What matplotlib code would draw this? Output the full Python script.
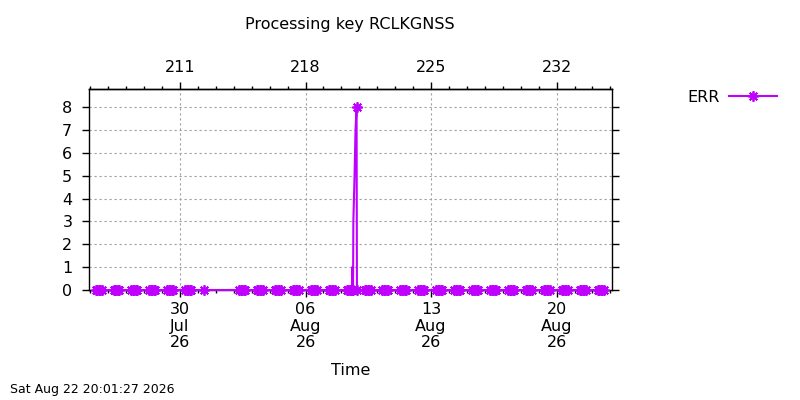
import matplotlib
matplotlib.use('Agg')
import matplotlib.pyplot as plt
import matplotlib.dates as mdates
from matplotlib.ticker import MultipleLocator, FixedLocator
import pandas as pd
from datetime import datetime

# --- data ---
zero_days = ['2026-07-25', '2026-07-26', '2026-07-27', '2026-07-28', '2026-07-29',
             '2026-07-30', '2026-08-02', '2026-08-03', '2026-08-04', '2026-08-05',
             '2026-08-06', '2026-08-07', '2026-08-09', '2026-08-10', '2026-08-11',
             '2026-08-12', '2026-08-13', '2026-08-14', '2026-08-15', '2026-08-16',
             '2026-08-17', '2026-08-18', '2026-08-19', '2026-08-20', '2026-08-21',
             '2026-08-22']
zero_hours = [7, 9, 11, 13, 15]

extra_times = ['2026-07-31 08:00']
extra_values = [0]

spike_times = ['2026-08-08 07:00', '2026-08-08 09:00', '2026-08-08 11:00', '2026-08-08 13:00',
               '2026-08-08 14:10', '2026-08-08 14:24', '2026-08-08 15:36', '2026-08-08 16:00',
               '2026-08-08 17:36', '2026-08-08 18:54', '2026-08-08 20:18', '2026-08-08 20:48']
spike_values = [0, 0, 0, 0, 0, 1, 0, 3, 5, 7, 8, 0]

doy_ticks = [211, 218, 225, 232]
series_name = 'ERR'
title = 'Processing key RCLKGNSS'
stamp = 'Sat Aug 22 20:01:27 2026'

# build the series
rows = []
for d in zero_days:
    for h in zero_hours:
        rows.append((pd.Timestamp(d) + pd.Timedelta(hours=h), 0))
for t, v in zip(extra_times, extra_values):
    rows.append((pd.Timestamp(t), v))
for t, v in zip(spike_times, spike_values):
    rows.append((pd.Timestamp(t), v))
df = pd.DataFrame(rows, columns=['time', 'err']).sort_values('time').reset_index(drop=True)

# markers only on the sampled points, not on the ramp of the spike
peak = df['err'].max()
mark_idx = [i for i, v in enumerate(df['err']) if v == 0 or v == peak]

color = '#c000ff'
fs = 11.5
plt.rcParams['font.family'] = 'DejaVu Sans'

fig = plt.figure(figsize=(8, 4), dpi=100)
ax = fig.add_axes([89 / 800, 1 - 290 / 400, (612 - 89) / 800, (290 - 89) / 400])

ax.plot(df['time'], df['err'], color=color, lw=1.5, marker=(8, 2, 0), ms=7.5, mew=1.3,
        markevery=mark_idx, clip_on=False, zorder=3, label=series_name)

ax.set_xlim(datetime(2026, 7, 24, 22, 12), datetime(2026, 8, 23, 2, 10))
ax.set_ylim(0, 8.8)

ax.xaxis.set_major_locator(FixedLocator(mdates.date2num(
    [datetime(2026, 7, 30), datetime(2026, 8, 6), datetime(2026, 8, 13), datetime(2026, 8, 20)])))
ax.xaxis.set_major_formatter(mdates.DateFormatter('%d\n%b\n%y'))
ax.xaxis.set_minor_locator(mdates.DayLocator())
ax.yaxis.set_major_locator(MultipleLocator(1))

ax.tick_params(axis='both', which='major', direction='out', length=5, width=1, labelsize=fs)
ax.tick_params(axis='both', which='minor', direction='out', length=2.5, width=1)
ax.tick_params(axis='y', which='both', right=True, pad=7)
ax.tick_params(axis='x', which='both', top=False, pad=4)
for lab in ax.get_xticklabels():
    lab.set_linespacing(1.12)

for s in ax.spines.values():
    s.set_linewidth(1.0)

ax.grid(True, which='major', color='#a0a0a0', linestyle=(0, (2, 2.5)), lw=0.8)

# day-of-year axis on top
base = mdates.date2num(datetime(2026, 1, 1))
top = ax.secondary_xaxis('top', functions=(lambda x: x - base + 1, lambda d: d + base - 1))
top.xaxis.set_major_locator(FixedLocator(doy_ticks))
top.xaxis.set_minor_locator(MultipleLocator(1))
top.tick_params(which='major', direction='out', length=5, width=1, labelsize=fs, pad=5)
top.tick_params(which='minor', direction='out', length=2.5, width=1)
top.spines['top'].set_linewidth(1.0)

fig.text(350 / 800, 1 - 24 / 400, title, ha='center', va='center', fontsize=fs)
ax.set_xlabel('Time', fontsize=fs, labelpad=9)
fig.text(10 / 800, 1 - 390 / 400, stamp, ha='left', va='center', fontsize=9)

leg = ax.legend(loc='center left', bbox_to_anchor=(687 / 800, 1 - 97 / 400),
                bbox_transform=fig.transFigure, markerfirst=False, frameon=False,
                handlelength=3.0, handletextpad=0.6, borderpad=0, borderaxespad=0,
                fontsize=fs)

fig.savefig('out.png', dpi=100)
